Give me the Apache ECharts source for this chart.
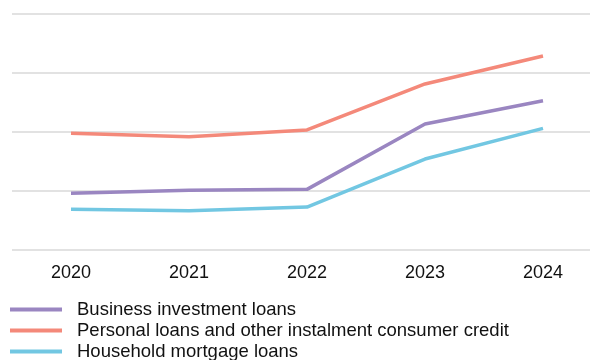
<!DOCTYPE html>
<html>
<head>
<meta charset="utf-8">
<script src="https://cdn.jsdelivr.net/npm/echarts@6/dist/echarts.min.js"></script>
<style>
  html, body { margin: 0; padding: 0; background: #ffffff; }
  #chart { width: 590px; height: 360px; }
</style>
</head>
<body>
<div id="chart"></div>
<script>
// Loan growth by category, 2020–2024
const years = ['2020', '2021', '2022', '2023', '2024'];
const businessInvestment = [4.8, 5.06, 5.14, 10.68, 12.65];
const personalLoans = [9.89, 9.6, 10.17, 14.07, 16.44];
const householdMortgage = [3.45, 3.33, 3.64, 7.71, 10.31];

const seriesNames = [
  'Business investment loans',
  'Personal loans and other instalment consumer credit',
  'Household mortgage loans'
];
const seriesColors = ['#9a86c1', '#f4897a', '#72c7e2'];
const seriesData = [businessInvestment, personalLoans, householdMortgage];

const font = '"Liberation Sans", Arial, sans-serif';

const chart = echarts.init(document.getElementById('chart'), null, { renderer: 'canvas' });

chart.setOption({
  animation: false,
  color: seriesColors,
  // plot area runs slightly past the right edge so the last category band is cut off
  grid: { left: 12, top: 14, right: -12, bottom: 110, outerBoundsMode: 'none' },
  legend: {
    orient: 'vertical',
    left: 10,
    top: 300,
    height: 80,
    itemWidth: 52,
    itemHeight: 4,
    itemGap: 2,
    icon: 'rect',
    padding: 0,
    textStyle: {
      fontFamily: font,
      fontSize: 18.5,
      lineHeight: 16,
      color: '#111',
      padding: [0, 0, 0, 10]
    },
    data: seriesNames
  },
  xAxis: {
    type: 'category',
    data: years,
    boundaryGap: true,
    axisLine: { show: false },
    axisTick: { show: false },
    axisLabel: {
      margin: 14,
      fontFamily: font,
      fontSize: 18,
      color: '#111'
    }
  },
  yAxis: {
    type: 'value',
    min: 0,
    max: 20,
    interval: 5,
    axisLine: { show: false },
    axisTick: { show: false },
    axisLabel: { show: false },
    splitLine: { lineStyle: { color: '#d9d9d9', width: 1.5 } }
  },
  series: seriesNames.map((name, i) => ({
    name: name,
    type: 'line',
    data: seriesData[i],
    symbol: 'none',
    smooth: false,
    lineStyle: { width: 3.5, color: seriesColors[i] },
    itemStyle: { color: seriesColors[i] }
  }))
});
</script>
</body>
</html>
